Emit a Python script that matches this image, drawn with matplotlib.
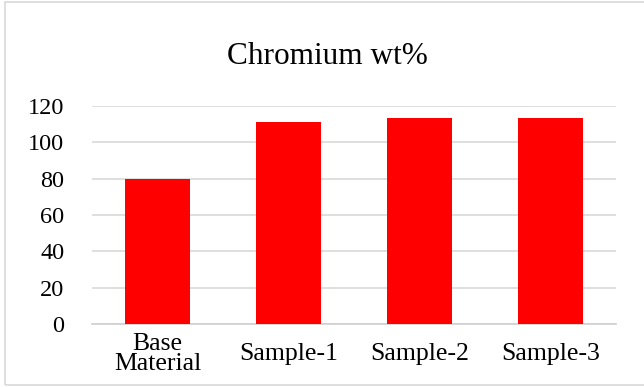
import matplotlib
matplotlib.use('Agg')
import matplotlib.pyplot as plt
from matplotlib.patches import Rectangle

categories = ['Base\nMaterial', 'Sample-1', 'Sample-2', 'Sample-3']
chromium = [80, 111, 113.5, 113.5]
yticks = [0, 20, 40, 60, 80, 100, 120]

plt.rcParams['font.family'] = ['Liberation Serif', 'DejaVu Serif']

fig = plt.figure(figsize=(6.44, 3.87), dpi=100)
fig.patch.set_facecolor('white')
ax = fig.add_axes([92/644, 1 - 324.3/387, (616 - 92)/644, (324.3 - 105.7)/387])

x = range(len(categories))
ax.bar(x, chromium, width=0.5, color='#ff0000', zorder=3)

ax.set_xlim(-0.5, len(categories) - 0.5)
ax.set_ylim(0, 120)
ax.set_yticks(yticks)
ax.set_xticks(list(x))
ax.set_xticklabels(categories, linespacing=0.92, va='center')
ax.tick_params(axis='both', length=0, colors='black')
ax.tick_params(axis='y', pad=20, labelsize=17.5)
ax.tick_params(axis='x', pad=21.5, labelsize=18.5)
ax.grid(axis='y', color='#d9d9d9', linewidth=1.2, zorder=0)
for s in ['top', 'right', 'left']:
    ax.spines[s].set_visible(False)
ax.spines['bottom'].set_color('#d0d0d0')
ax.spines['bottom'].set_linewidth(1.2)

fig.text(327.5/644, 1 - 64/387, 'Chromium wt%', ha='center', va='baseline', fontsize=22.5)

fig.patches.append(Rectangle((4.5/644, 2/387), 1.0, 383/387, transform=fig.transFigure,
                             fill=False, edgecolor='#d9d9d9', linewidth=1.2))

fig.savefig('out.png', dpi=100)
